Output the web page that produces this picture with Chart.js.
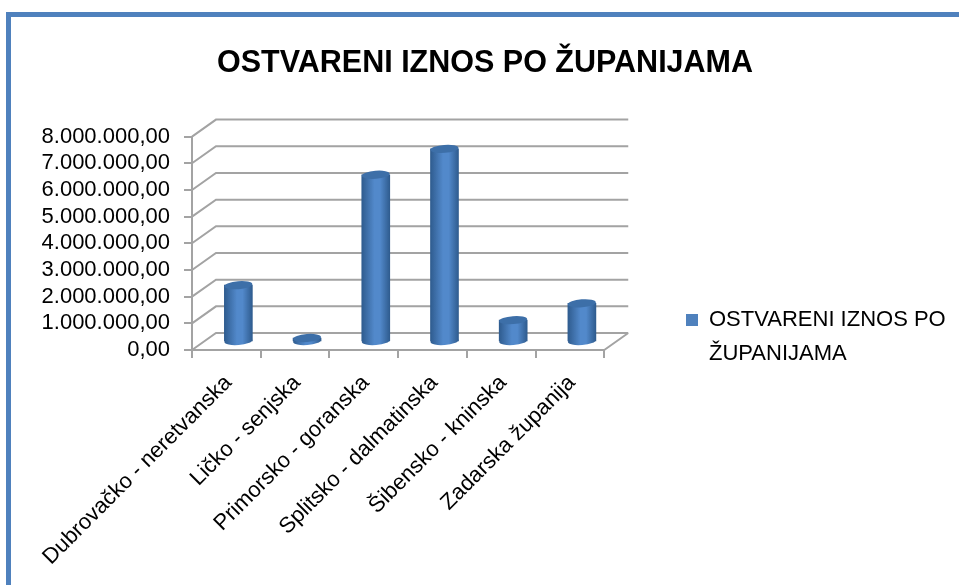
<!DOCTYPE html>
<html>
<head>
<meta charset="utf-8">
<title>Ostvareni iznos po županijama</title>
<script src="https://cdn.jsdelivr.net/npm/chart.js@4"></script>
<style>
    html, body { margin: 0; background: #fff; overflow: hidden; }
    #frame { position: absolute; left: 6px; top: 12px; width: 953px; height: 573px; border-top: 5px solid #4f81bd; border-left: 5px solid #4f81bd; }
</style>
</head>
<body>
<div id="frame"><canvas id="chart" width="948" height="568"></canvas></div>
<script>
const categories = ["Dubrovačko - neretvanska", "Ličko - senjska", "Primorsko - goranska", "Splitsko - dalmatinska", "Šibensko - kninska", "Zadarska županija"];
const values = [2130000, 150000, 6270000, 7240000, 820000, 1450000];
const tickLabels = ["0,00", "1.000.000,00", "2.000.000,00", "3.000.000,00", "4.000.000,00", "5.000.000,00", "6.000.000,00", "7.000.000,00", "8.000.000,00"];
const seriesName = "OSTVARENI IZNOS PO ŽUPANIJAMA";
const legendLines = ["OSTVARENI IZNOS PO", "ŽUPANIJAMA"];

const GREY = "#a3a3a3";
const DEPTH_X = 24, DEPTH_Y = -17;   // back wall offset
const BAR_X = 12, BAR_Y = -8;        // bars stand half way back

// slanted floor/wall lines of the fake 3d box
const wallPlugin = {
    id: "wall",
    beforeDatasetsDraw(chart) {
        const { ctx, scales: { x, y } } = chart;
        ctx.save();
        ctx.strokeStyle = GREY;
        ctx.lineWidth = 2;
        ctx.beginPath();
        y.ticks.forEach(t => {
            const py = y.getPixelForValue(t.value);
            ctx.moveTo(x.left, py);
            ctx.lineTo(x.left + DEPTH_X, py + DEPTH_Y);
            ctx.lineTo(x.right + DEPTH_X, py + DEPTH_Y);
        });
        const zero = y.getPixelForValue(0);
        ctx.moveTo(x.right, zero);
        ctx.lineTo(x.right + DEPTH_X, zero + DEPTH_Y);
        ctx.stroke();
        ctx.restore();
    }
};

// shift the bars back and put elliptical caps on them
const cylinderPlugin = {
    id: "cylinder",
    beforeDatasetDraw(chart) {
        chart.ctx.save();
        chart.ctx.translate(BAR_X, BAR_Y);
        chart.getDatasetMeta(0).data.forEach(bar => {
            const half = bar.width / 2;
            chart.ctx.fillStyle = barGradient(chart.ctx, bar.x, half);
            chart.ctx.beginPath();
            chart.ctx.ellipse(bar.x, bar.base, half, 4, -0.08, 0, Math.PI * 2);
            chart.ctx.fill();
        });
    },
    afterDatasetDraw(chart) {
        const ctx = chart.ctx;
        chart.getDatasetMeta(0).data.forEach(bar => {
            ctx.fillStyle = "#3d6fa8";
            ctx.beginPath();
            ctx.ellipse(bar.x, bar.y, bar.width / 2, 4, -0.08, 0, Math.PI * 2);
            ctx.fill();
        });
        ctx.restore();
    }
};

// legend sits low on the right, title centred on the whole canvas
const boxPlace = {
    id: "boxPlace",
    afterLayout(chart) {
        const l = chart.legend;
        l.left = 665;
        l.right = 948;
        l.top = 282;
        l.bottom = 370;
        chart.titleBlock.left = 0;
        chart.titleBlock.right = 948;
    }
};

function barGradient(ctx, cx, half) {
    const g = ctx.createLinearGradient(cx - half, 0, cx + half, 0);
    g.addColorStop(0, "#2f5c8f");
    g.addColorStop(0.45, "#5289cb");
    g.addColorStop(0.65, "#5289cb");
    g.addColorStop(1, "#2f5c8f");
    return g;
}

new Chart(document.getElementById("chart"), {
    type: "bar",
    data: {
        labels: categories,
        datasets: [{
            label: seriesName,
            data: values,
            barThickness: 28,
            borderWidth: 0,
            backgroundColor(c) {
                if (c.type !== "data") return "#4f81bd";
                const px = c.chart.scales.x.getPixelForValue(c.dataIndex);
                if (!isFinite(px)) return "#4f81bd";
                return barGradient(c.chart.ctx, px, 14);
            }
        }]
    },
    plugins: [wallPlugin, cylinderPlugin, boxPlace],
    options: {
        responsive: false,
        animation: false,
        layout: { padding: { right: 157 } },
        plugins: {
            tooltip: { enabled: false },
            title: {
                display: true,
                text: seriesName,
                color: "#000",
                font: { family: "Liberation Sans", size: 30.5, weight: "bold" },
                padding: { top: 28, bottom: 55 }
            },
            legend: {
                position: "right",
                align: "start",
                labels: {
                    color: "#000",
                    boxWidth: 12,
                    boxHeight: 12,
                    font: { family: "Liberation Sans", size: 22, lineHeight: 1.55 },
                    generateLabels(chart) {
                        return Chart.defaults.plugins.legend.labels.generateLabels(chart).map(item => {
                            item.text = legendLines;
                            item.fillStyle = "#4f81bd";
                            return item;
                        });
                    }
                }
            }
        },
        scales: {
            x: {
                afterFit(scale) { scale.height = 235; },
                grid: { drawOnChartArea: false, color: GREY, lineWidth: 2, tickLength: 8 },
                border: { color: GREY, width: 2 },
                ticks: {
                    autoSkip: false,
                    minRotation: 45,
                    maxRotation: 45,
                    labelOffset: 2,
                    padding: 12,
                    color: "#000",
                    font: { family: "Liberation Sans", size: 22 }
                }
            },
            y: {
                min: 0,
                max: 8000000,
                afterFit(scale) { scale.width = 181; },
                grid: { drawOnChartArea: false, color: GREY, lineWidth: 2, tickLength: 8 },
                border: { color: GREY, width: 2 },
                ticks: {
                    autoSkip: false,
                    stepSize: 1000000,
                    padding: 14,
                    color: "#000",
                    font: { family: "Liberation Sans", size: 22 },
                    callback(v, i) { return tickLabels[i]; }
                }
            }
        }
    }
});
</script>
</body>
</html>
